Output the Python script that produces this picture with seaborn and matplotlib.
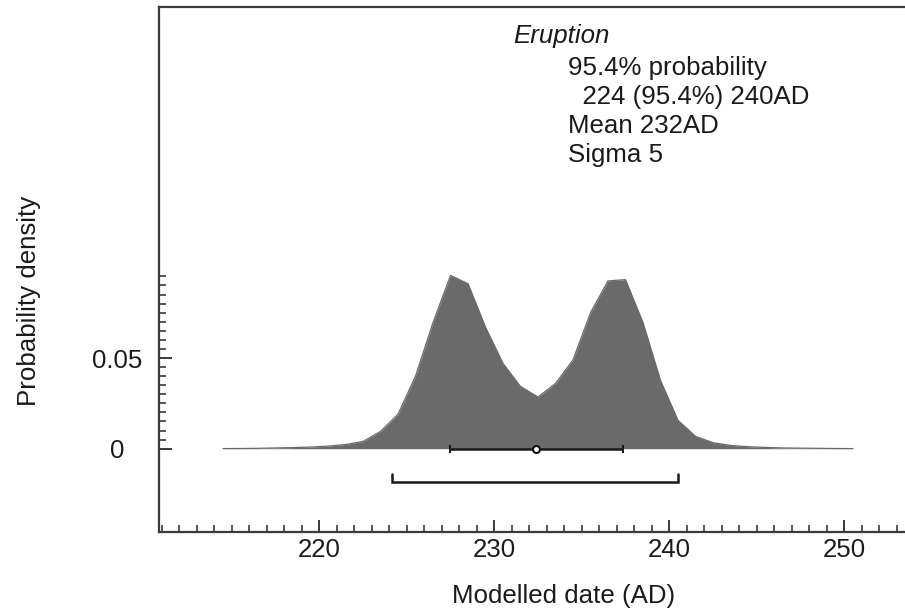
import numpy as np
import pandas as pd
import matplotlib
matplotlib.use("Agg")
import matplotlib.pyplot as plt
from matplotlib.ticker import FixedLocator
import seaborn as sns

# ---- data ----
years = [214.5, 215.5, 216.5, 217.5, 218.5, 219.5, 220.5, 221.5, 222.5, 223.5,
         224.5, 225.5, 226.5, 227.5, 228.5, 229.5, 230.5, 231.5, 232.5, 233.5,
         234.5, 235.5, 236.5, 237.5, 238.5, 239.5, 240.5, 241.5, 242.5, 243.5,
         244.5, 245.5, 246.5, 247.5, 248.5, 249.5, 250.5]
density = [0.00005, 0.0001, 0.0002, 0.0004, 0.0006, 0.0009, 0.0014, 0.0023, 0.0040, 0.0095,
           0.0190, 0.0400, 0.0695, 0.0955, 0.0910, 0.0670, 0.0470, 0.0343, 0.0285, 0.0360,
           0.0490, 0.0750, 0.0925, 0.0932, 0.0695, 0.0376, 0.0156, 0.0068, 0.0033, 0.0018,
           0.0011, 0.0007, 0.0004, 0.0003, 0.0002, 0.0001, 0.00005]
mean_date = 232.4
sigma = 4.95
range_lo, range_hi = 224.14, 240.51

x_major = [220, 230, 240, 250]
y_major = [0, 0.05]
y_major_labels = ["0", "0.05"]

title_name = "Eruption"
info_lines = ["95.4% probability", "  224 (95.4%) 240AD", "Mean 232AD", "Sigma 5"]

# ---- style ----
sns.set_theme(style="ticks")
plt.rcParams["font.family"] = ["Liberation Sans", "DejaVu Sans"]
FS = 18.6
FILL = "#6a6a6a"
DARK = "#3a3a3a"

W, H = 905, 613
fig = plt.figure(figsize=(W / 100, H / 100), dpi=100)
left_px, right_px, top_px, bottom_px = 159.3, 905, 6.5, 532.3
ax = fig.add_axes([left_px / W, 1 - bottom_px / H,
                   (right_px - left_px) / W, (bottom_px - top_px) / H])

df = pd.DataFrame({"year": years, "density": density})
ax.fill_between(df["year"], 0, df["density"], color=FILL, lw=0)
sns.lineplot(data=df, x="year", y="density", color=FILL, lw=0.9, ax=ax)

# mean +- sigma
ax.errorbar([mean_date], [0], xerr=[sigma], fmt="o", ms=5, mfc="white",
            mec="#111111", mew=1.5, color="#1a1a1a", elinewidth=1.8,
            capsize=3, capthick=1.5, zorder=5)

# 95.4% range bracket
br_y = -0.0182
br_h = 0.0045
ax.plot([range_lo, range_lo, range_hi, range_hi],
        [br_y + br_h, br_y, br_y, br_y + br_h], color="#1a1a1a", lw=1.8,
        solid_joinstyle="miter")

ax.set_xlim(210.86, 253.47)
ax.set_ylim(-0.0461, 0.2438)

ax.set_xticks(x_major)
ax.set_xticklabels([str(v) for v in x_major])
ax.xaxis.set_minor_locator(FixedLocator(list(range(211, 254))))
ax.set_yticks(y_major)
ax.set_yticklabels(y_major_labels)
ax.yaxis.set_minor_locator(FixedLocator([0.005 * i for i in range(1, 20) if i != 10]))

ax.tick_params(axis="both", which="major", direction="in", length=9, width=1.4,
               color=DARK, labelsize=FS, labelcolor="#1a1a1a")
ax.tick_params(axis="both", which="minor", direction="in", length=5, width=1.2,
               color=DARK)
ax.tick_params(axis="x", which="major", pad=4)
ax.tick_params(axis="y", which="major", pad=30)
for lab in ax.get_yticklabels():
    lab.set_ha("center")

for side in ["left", "top", "bottom"]:
    ax.spines[side].set_linewidth(1.6)
    ax.spines[side].set_color(DARK)
ax.spines["right"].set_visible(False)

ax.set_xlabel("Modelled date (AD)", fontsize=FS, color="#1a1a1a", va="center")
ax.xaxis.set_label_coords((564 - left_px) / (right_px - left_px),
                          (bottom_px - 596) / (bottom_px - top_px))
ax.set_ylabel("Probability density", fontsize=FS, color="#1a1a1a", va="center")
ax.yaxis.set_label_coords((29 - left_px) / (right_px - left_px),
                          (bottom_px - 301) / (bottom_px - top_px))

fig.text(513 / W, 1 - 36 / H, title_name, fontsize=FS, style="italic",
         va="center", ha="left", color="#1a1a1a")
line_y = [68, 97, 126, 155]
for txt, yy in zip(info_lines, line_y):
    fig.text(568 / W, 1 - yy / H, txt, fontsize=FS, va="center", ha="left",
             color="#1a1a1a")

fig.savefig("out.png", dpi=100, facecolor="white")
